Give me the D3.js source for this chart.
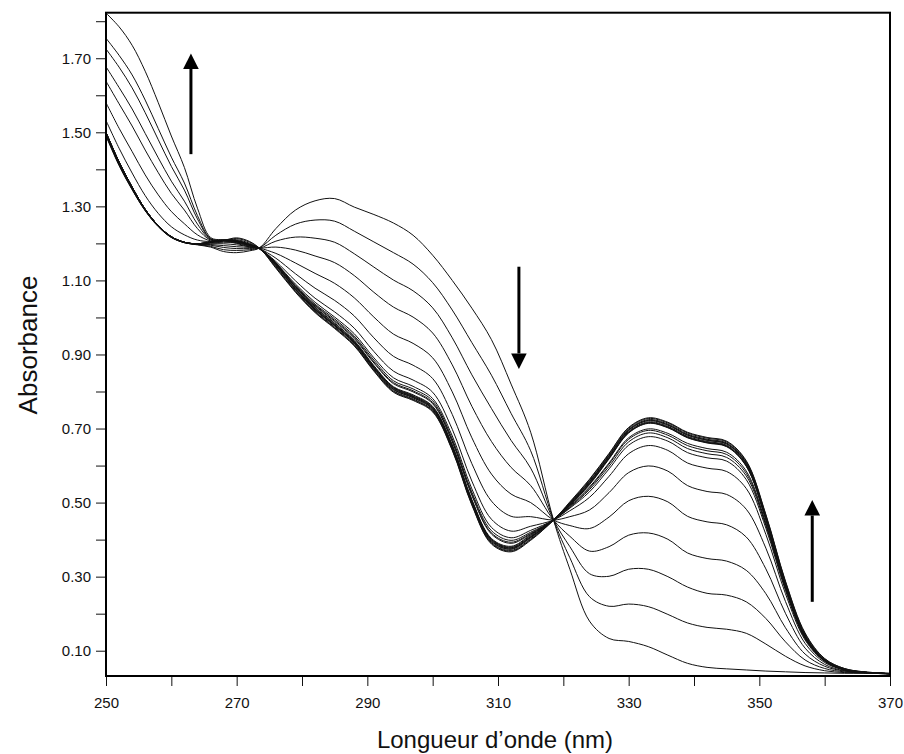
<!DOCTYPE html>
<html>
<head>
<meta charset="utf-8">
<script src="https://cdn.jsdelivr.net/npm/d3@7"></script>
<style>
  html, body { margin: 0; padding: 0; background: #fff; }
  svg { display: block; }
  text { font-family: "Liberation Sans", Arial, Helvetica, sans-serif; fill: #111; }
</style>
</head>
<body>
<svg id="chart" width="904" height="754"></svg>
<script>
// Wavelength grid (nm) shared by every scan
const wavelengths = [250,252,254,256,258,260,262,264,266,268,270,272,273.5,
  276,279,282,285,288,291,294,297,300,303,306,309,312,315,318.5,
  321,324,327,330,333,336,339,342,345,348,351,354,357,360,363,366,370];

// Absorbance scans, in the order they were recorded
const scan01 = [1.490,1.410,1.345,1.288,1.245,1.216,1.202,1.196,1.190,1.178,1.175,1.180,1.188,
  1.240,1.290,1.315,1.321,1.298,1.278,1.255,1.222,1.168,1.100,1.025,0.940,0.820,0.690,0.453,
  0.320,0.180,0.133,0.125,0.111,0.088,0.066,0.055,0.051,0.048,0.045,0.043,0.041,0.040,0.039,0.039,0.038];
const scan02 = [1.492,1.412,1.346,1.289,1.246,1.216,1.202,1.197,1.192,1.183,1.181,1.183,1.188,
  1.222,1.252,1.263,1.260,1.233,1.204,1.175,1.144,1.094,1.020,0.932,0.844,0.741,0.640,0.453,
  0.351,0.246,0.220,0.226,0.219,0.198,0.175,0.163,0.158,0.147,0.118,0.085,0.059,0.046,0.041,0.040,0.038];
const scan03 = [1.493,1.413,1.347,1.289,1.246,1.217,1.202,1.197,1.195,1.189,1.186,1.186,1.187,
  1.206,1.217,1.214,1.203,1.172,1.136,1.101,1.072,1.026,0.945,0.845,0.754,0.668,0.593,0.453,
  0.381,0.308,0.301,0.320,0.320,0.300,0.272,0.255,0.250,0.232,0.187,0.124,0.075,0.052,0.043,0.040,0.038];
const scan04 = [1.495,1.415,1.349,1.290,1.247,1.217,1.203,1.198,1.197,1.194,1.191,1.189,1.187,
  1.190,1.182,1.166,1.148,1.113,1.068,1.028,1.001,0.958,0.872,0.760,0.665,0.595,0.546,0.453,
  0.409,0.369,0.381,0.412,0.418,0.401,0.364,0.349,0.342,0.317,0.254,0.162,0.091,0.058,0.045,0.041,0.038];
const scan05 = [1.497,1.417,1.350,1.291,1.247,1.217,1.203,1.198,1.199,1.199,1.196,1.191,1.187,
  1.173,1.147,1.119,1.092,1.053,1.001,0.955,0.930,0.891,0.799,0.675,0.577,0.523,0.500,0.453,
  0.438,0.430,0.461,0.505,0.517,0.502,0.463,0.448,0.440,0.407,0.321,0.201,0.107,0.063,0.046,0.041,0.038];
const scan06 = [1.498,1.418,1.351,1.291,1.247,1.218,1.203,1.198,1.201,1.203,1.201,1.194,1.186,
  1.160,1.118,1.079,1.046,1.004,0.945,0.895,0.871,0.835,0.738,0.605,0.504,0.463,0.462,0.453,
  0.462,0.480,0.527,0.581,0.599,0.585,0.546,0.530,0.522,0.482,0.377,0.233,0.120,0.068,0.048,0.041,0.038];
const scan07 = [1.499,1.419,1.351,1.292,1.248,1.218,1.203,1.199,1.202,1.206,1.204,1.195,1.186,
  1.151,1.099,1.052,1.015,0.971,0.908,0.855,0.831,0.798,0.698,0.558,0.455,0.423,0.436,0.453,
  0.478,0.514,0.571,0.632,0.654,0.641,0.607,0.593,0.584,0.538,0.414,0.254,0.129,0.071,0.049,0.042,0.038];
const scan08 = [1.499,1.419,1.352,1.292,1.248,1.218,1.203,1.199,1.203,1.207,1.205,1.196,1.186,
  1.147,1.090,1.041,1.001,0.956,0.891,0.837,0.814,0.781,0.680,0.537,0.433,0.405,0.425,0.453,
  0.485,0.529,0.591,0.655,0.678,0.666,0.635,0.621,0.612,0.562,0.431,0.263,0.133,0.073,0.049,0.042,0.038];
const scan09 = [1.499,1.419,1.352,1.292,1.248,1.218,1.203,1.199,1.203,1.207,1.205,1.196,1.186,
  1.145,1.087,1.036,0.996,0.950,0.885,0.829,0.807,0.775,0.672,0.528,0.424,0.398,0.420,0.453,
  0.487,0.535,0.598,0.664,0.688,0.675,0.646,0.632,0.622,0.572,0.438,0.267,0.135,0.073,0.049,0.042,0.038];
const scan10 = [1.500,1.420,1.352,1.292,1.248,1.218,1.203,1.199,1.203,1.208,1.206,1.196,1.186,
  1.144,1.084,1.033,0.992,0.946,0.880,0.824,0.802,0.770,0.667,0.523,0.418,0.393,0.417,0.453,
  0.489,0.539,0.604,0.671,0.695,0.682,0.654,0.640,0.630,0.579,0.442,0.270,0.136,0.074,0.050,0.042,0.038];
const scan11 = [1.500,1.420,1.352,1.292,1.248,1.218,1.203,1.199,1.204,1.208,1.206,1.196,1.186,
  1.144,1.083,1.031,0.989,0.943,0.877,0.821,0.799,0.767,0.664,0.519,0.415,0.390,0.415,0.453,
  0.491,0.542,0.607,0.675,0.699,0.687,0.660,0.646,0.636,0.585,0.445,0.272,0.136,0.074,0.050,0.042,0.038];
const scan12 = [1.500,1.420,1.352,1.292,1.248,1.218,1.203,1.199,1.204,1.209,1.207,1.197,1.186,
  1.141,1.077,1.023,0.980,0.934,0.866,0.810,0.787,0.756,0.653,0.505,0.400,0.378,0.408,0.453,
  0.495,0.551,0.620,0.689,0.715,0.703,0.676,0.662,0.652,0.599,0.456,0.278,0.139,0.075,0.050,0.042,0.038];
const scan13 = [1.500,1.420,1.352,1.292,1.248,1.218,1.203,1.199,1.204,1.209,1.207,1.197,1.186,
  1.140,1.075,1.020,0.977,0.930,0.862,0.805,0.783,0.752,0.648,0.500,0.395,0.374,0.405,0.453,
  0.497,0.555,0.625,0.695,0.721,0.709,0.682,0.668,0.658,0.605,0.460,0.280,0.140,0.075,0.050,0.042,0.038];
const scan14 = [1.532,1.457,1.390,1.329,1.281,1.245,1.223,1.209,1.205,1.208,1.210,1.200,1.186,
  1.143,1.078,1.023,0.980,0.933,0.865,0.808,0.786,0.755,0.651,0.503,0.398,0.377,0.408,0.453,
  0.499,0.558,0.628,0.698,0.724,0.712,0.685,0.671,0.661,0.608,0.463,0.283,0.143,0.076,0.051,0.042,0.038];
const scan15 = [1.580,1.511,1.448,1.385,1.331,1.286,1.253,1.223,1.207,1.207,1.204,1.194,1.186,
  1.137,1.072,1.017,0.974,0.927,0.859,0.802,0.780,0.749,0.645,0.497,0.392,0.371,0.402,0.453,
  0.495,0.552,0.622,0.692,0.718,0.706,0.679,0.665,0.655,0.602,0.457,0.277,0.137,0.074,0.049,0.041,0.038];
const scan16 = [1.638,1.577,1.517,1.452,1.391,1.335,1.290,1.240,1.209,1.208,1.213,1.203,1.187,
  1.146,1.081,1.026,0.983,0.936,0.868,0.811,0.789,0.758,0.654,0.506,0.401,0.380,0.411,0.454,
  0.500,0.561,0.631,0.701,0.727,0.715,0.688,0.674,0.664,0.611,0.466,0.286,0.146,0.078,0.052,0.043,0.039];
const scan17 = [1.677,1.621,1.563,1.497,1.431,1.368,1.314,1.252,1.211,1.208,1.202,1.192,1.185,
  1.135,1.070,1.015,0.972,0.925,0.857,0.800,0.778,0.747,0.643,0.495,0.390,0.369,0.400,0.452,
  0.494,0.550,0.620,0.690,0.716,0.704,0.677,0.663,0.653,0.600,0.455,0.275,0.135,0.073,0.049,0.041,0.037];
const scan18 = [1.725,1.676,1.620,1.553,1.480,1.408,1.344,1.266,1.212,1.209,1.208,1.198,1.186,
  1.141,1.076,1.021,0.978,0.931,0.863,0.806,0.784,0.753,0.649,0.501,0.396,0.375,0.406,0.453,
  0.498,0.556,0.626,0.696,0.722,0.710,0.683,0.669,0.659,0.606,0.461,0.281,0.141,0.075,0.050,0.042,0.038];
const scan19 = [1.754,1.708,1.655,1.587,1.510,1.433,1.363,1.275,1.213,1.209,1.215,1.205,1.187,
  1.148,1.083,1.028,0.985,0.938,0.870,0.813,0.791,0.760,0.656,0.508,0.403,0.382,0.413,0.454,
  0.502,0.563,0.633,0.703,0.729,0.717,0.690,0.676,0.666,0.613,0.468,0.288,0.148,0.079,0.052,0.043,0.039];
const scan20 = [1.822,1.785,1.735,1.665,1.580,1.490,1.405,1.295,1.216,1.209,1.200,1.190,1.185,
  1.133,1.068,1.013,0.970,0.923,0.855,0.798,0.776,0.745,0.641,0.493,0.388,0.367,0.398,0.452,
  0.493,0.548,0.618,0.688,0.714,0.702,0.675,0.661,0.651,0.598,0.453,0.273,0.133,0.072,0.048,0.041,0.037];

const scans = [scan01, scan02, scan03, scan04, scan05, scan06, scan07, scan08, scan09, scan10,
  scan11, scan12, scan13, scan14, scan15, scan16, scan17, scan18, scan19, scan20];

// Axis ticks
const xLabelTicks = [250, 270, 290, 310, 330, 350, 370];
const xMinorTicks = [260, 280, 300, 320, 340, 360];
const yLabelTicks = [0.10, 0.30, 0.50, 0.70, 0.90, 1.10, 1.30, 1.50, 1.70];
const yMinorTicks = [0.20, 0.40, 0.60, 0.80, 1.00, 1.20, 1.40, 1.60, 1.80];

// Trend arrows: wavelength, start absorbance, tip absorbance
const arrowWavelength = [263.0, 313.2, 358.1];
const arrowFrom = [1.441, 1.137, 0.232];
const arrowTo = [1.713, 0.861, 0.507];

const xTitle = "Longueur d\u2019onde (nm)";
const yTitle = "Absorbance";

const svg = d3.select("#chart");
const x = d3.scaleLinear().domain([250, 370]).range([106, 890]);
const y = d3.scaleLinear().domain([0.0317, 1.823]).range([676, 12.7]);

const [plotLeft, plotRight] = x.range();
const [plotBottom, plotTop] = y.range();

svg.append("defs").append("clipPath").attr("id", "plotClip")
  .append("rect").attr("x", plotLeft).attr("y", plotTop)
  .attr("width", plotRight - plotLeft).attr("height", plotBottom - plotTop);

// Spectra
const line = d3.line()
  .x((d, i) => x(wavelengths[i]))
  .y(d => y(d))
  .curve(d3.curveCatmullRom.alpha(0.5));

svg.append("g").attr("clip-path", "url(#plotClip)")
  .selectAll("path").data(scans).join("path")
  .attr("d", line)
  .attr("fill", "none")
  .attr("stroke", "#111")
  .attr("stroke-width", 1);

// Axes
function styleAxis(g) {
  g.select(".domain").remove();
  g.selectAll(".tick line").attr("stroke", "#111").attr("stroke-width", 1);
  g.selectAll(".tick text").attr("font-size", 15).attr("fill", "#111")
    .attr("font-family", "'Liberation Sans', Arial, sans-serif");
}

svg.append("g").attr("transform", `translate(0,${plotBottom})`)
  .call(d3.axisBottom(x).tickValues(xLabelTicks).tickSize(10).tickPadding(11).tickFormat(d3.format("d")))
  .call(styleAxis);
svg.append("g").attr("transform", `translate(0,${plotBottom})`)
  .call(d3.axisBottom(x).tickValues(xMinorTicks).tickSize(10).tickFormat(""))
  .call(styleAxis);

svg.append("g").attr("transform", `translate(${plotLeft},0)`)
  .call(d3.axisLeft(y).tickValues(yLabelTicks).tickSize(10).tickPadding(5).tickFormat(d3.format(".2f")))
  .call(styleAxis);
svg.append("g").attr("transform", `translate(${plotLeft},0)`)
  .call(d3.axisLeft(y).tickValues(yMinorTicks).tickSize(10).tickFormat(""))
  .call(styleAxis);

// Frame
svg.append("rect")
  .attr("x", plotLeft).attr("y", plotTop)
  .attr("width", plotRight - plotLeft).attr("height", plotBottom - plotTop)
  .attr("fill", "none").attr("stroke", "#000").attr("stroke-width", 2);

// Arrows
const headLen = 15.5, headHalf = 7.8;
arrowWavelength.forEach((w, i) => {
  const ax = x(w);
  const y0 = y(arrowFrom[i]);
  const y1 = y(arrowTo[i]);
  const dir = y1 < y0 ? 1 : -1; // 1 = pointing up
  const base = y1 + dir * headLen;
  svg.append("line")
    .attr("x1", ax).attr("x2", ax)
    .attr("y1", y0).attr("y2", base)
    .attr("stroke", "#000").attr("stroke-width", 3);
  svg.append("path")
    .attr("d", `M${ax},${y1}L${ax - headHalf},${base}L${ax + headHalf},${base}Z`)
    .attr("fill", "#000");
});

// Axis titles
svg.append("text")
  .attr("x", 495).attr("y", 748)
  .attr("text-anchor", "middle").attr("font-size", 24)
  .text(xTitle);

svg.append("text")
  .attr("transform", `translate(37,${345}) rotate(-90)`)
  .attr("text-anchor", "middle").attr("font-size", 26)
  .text(yTitle);
</script>
</body>
</html>
